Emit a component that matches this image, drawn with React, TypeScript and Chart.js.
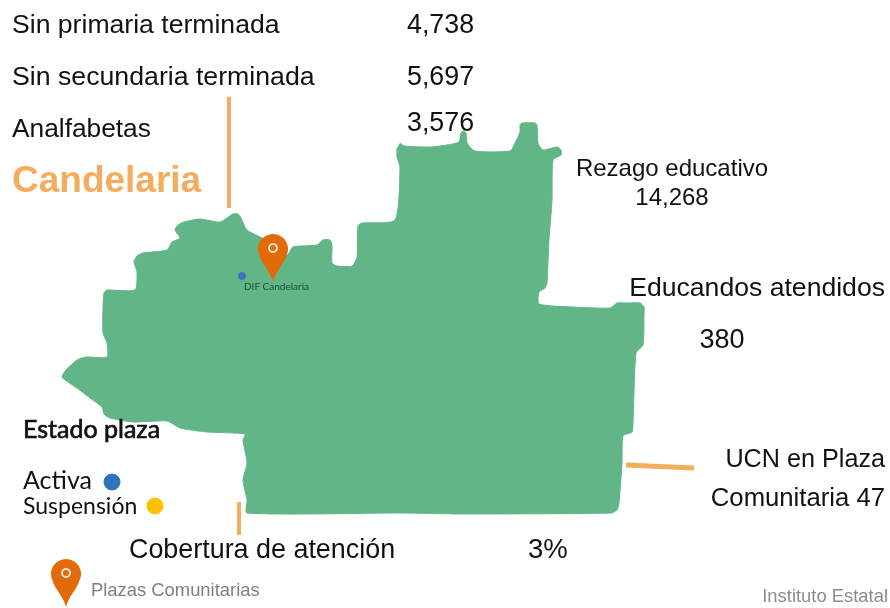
import React, { useEffect, useRef } from "react";
import { Chart, registerables } from "chart.js";

Chart.register(...registerables);

// Outline of the municipality (x, y)
const mapOutlineX = [400,404,430,447,459,461,463,466,467,475,510,515,520,520,522,535,537,538,543,557,561,561,553,552,549,547,545,539,539,573,610,617,625,640,644,644,643,636,633,632,623,622,619,617,611,463,400,247,247,243,247,243,245,207,180,167,133,110,104,102,90,77,68,62,66,77,86,107,107,103,103,104,107,135,137,134,137,143,167,172,180,175,178,184,200,220,233,238,241,247,262,287,293,317,323,330,332,332,337,352,357,358,362,395,400,397,397];
const mapOutlineY = [143,146,147,145,142,133,131,133,143,151,151,143,132,125,123,123,125,143,150,147,150,155,160,200,240,283,288,292,304,307,308,303,303,303,307,315,345,353,423,432,436,463,503,510,513,514,513,513,500,480,463,440,434,432,428,421,422,418,414,407,398,388,382,377,370,360,357,357,343,333,307,293,290,290,272,262,256,253,250,242,238,230,225,222,219,222,214,214,218,230,238,255,247,245,240,240,245,263,266,266,257,226,223,220,167,157,148];

const leaderA = { x: [229, 229], y: [97, 208] };
const leaderB = { x: [626, 694], y: [465, 468] };
const leaderC = { x: [239, 239], y: [502, 535] };

const plazaX = [242];
const plazaY = [276];
const legendActiveX = [112];
const legendActiveY = [482];
const legendSuspendedX = [155];
const legendSuspendedY = [506];
const pinX = [273, 66];
const pinY = [258, 583];

const rowLabels = ["Sin primaria terminada", "Sin secundaria terminada", "Analfabetas"];
const rowValues = ["4,738", "5,697", "3,576"];
const placeName = "Candelaria";
const plazaName = "DIF Candelaria";
const rezago = ["Rezago educativo", "14,268"];
const educandos = ["Educandos atendidos", "380"];
const ucn = ["UCN en Plaza", "Comunitaria 47"];
const cobertura = ["Cobertura de atención", "3%"];
const legendTitle = "Estado plaza";
const legendItems = ["Activa", "Suspensión"];
const pinCaption = "Plazas Comunitarias";
const source = "Instituto Estatal";

const GREEN = "#62B587";
const ORANGE = "#F4AC5E";
const PIN = "#E26A08";
const SANS = '"Liberation Sans", Arial, sans-serif';
const GOTHIC = 'Lato, sans-serif';

type Lbl = { t: string; x: number; y: number; font: string; color?: string; align?: CanvasTextAlign; stroke?: number };

const labels: Lbl[] = [
  { t: rowLabels[0], x: 12, y: 33, font: `26.6px ${SANS}` },
  { t: rowLabels[1], x: 12, y: 85, font: `26.7px ${SANS}` },
  { t: rowLabels[2], x: 12, y: 137, font: `26.3px ${SANS}` },
  { t: rowValues[0], x: 407, y: 33, font: `26.8px ${SANS}` },
  { t: rowValues[1], x: 407, y: 85, font: `26.8px ${SANS}` },
  { t: rowValues[2], x: 407, y: 131, font: `26.8px ${SANS}` },
  { t: placeName, x: 12, y: 192, font: `bold 37px ${SANS}`, color: ORANGE },
  { t: rezago[0], x: 672, y: 176, font: `24px ${SANS}`, align: "center" },
  { t: rezago[1], x: 672, y: 205, font: `24px ${SANS}`, align: "center" },
  { t: educandos[0], x: 885, y: 296, font: `26.6px ${SANS}`, align: "right" },
  { t: educandos[1], x: 722, y: 348, font: `27px ${SANS}`, align: "center" },
  { t: ucn[0], x: 885, y: 467, font: `25.2px ${SANS}`, align: "right" },
  { t: ucn[1], x: 885, y: 506, font: `25.7px ${SANS}`, align: "right" },
  { t: cobertura[0], x: 129, y: 558, font: `26.9px ${SANS}` },
  { t: cobertura[1], x: 528, y: 558, font: `27.5px ${SANS}` },
  { t: legendTitle, x: 23, y: 438, font: `25px ${GOTHIC}`, stroke: 0.7 },
  { t: legendItems[0], x: 23, y: 489, font: `25px ${GOTHIC}` },
  { t: legendItems[1], x: 23, y: 514, font: `23px ${GOTHIC}` },
  { t: plazaName, x: 244, y: 290, font: `10px ${GOTHIC}`, color: "#1F4D35" },
  { t: pinCaption, x: 91, y: 596, font: `18.4px ${SANS}`, color: "#808080" },
  { t: source, x: 888, y: 602, font: `18.4px ${SANS}`, color: "#8C8C8C", align: "right" },
];

function pts(xs: number[], ys: number[]) {
  return xs.map((x, i) => ({ x, y: ys[i] }));
}

function makePin(): HTMLCanvasElement {
  const c = document.createElement("canvas");
  c.width = 32;
  c.height = 50;
  const g = c.getContext("2d")!;
  g.fillStyle = PIN;
  g.beginPath();
  g.arc(16, 16, 15, Math.PI * 0.85, Math.PI * 0.15);
  g.bezierCurveTo(27, 31, 19, 38, 16, 49);
  g.bezierCurveTo(13, 38, 5, 31, 2.4, 22.8);
  g.closePath();
  g.fill();
  g.strokeStyle = "#FBE3CF";
  g.lineWidth = 2;
  g.beginPath();
  g.arc(16, 15, 4, 0, Math.PI * 2);
  g.stroke();
  return c;
}

const textPlugin = {
  id: "mapText",
  afterDatasetsDraw(chart: any) {
    const { ctx, scales } = chart;
    ctx.save();
    ctx.textBaseline = "alphabetic";
    for (const l of labels) {
      ctx.font = l.font;
      ctx.textAlign = l.align ?? "left";
      ctx.fillStyle = l.color ?? "#111111";
      const px = scales.x.getPixelForValue(l.x);
      const py = scales.y.getPixelForValue(l.y);
      ctx.fillText(l.t, px, py);
      if (l.stroke) {
        ctx.lineWidth = l.stroke;
        ctx.strokeStyle = ctx.fillStyle;
        ctx.strokeText(l.t, px, py);
      }
    }
    ctx.restore();
  },
};

export default function App() {
  const ref = useRef<HTMLCanvasElement>(null);
  useEffect(() => {
    document.body.style.margin = "0";
    const pin = makePin();
    const line = (a: { x: number[]; y: number[] }, w: number) => ({
      type: "line" as const,
      data: pts(a.x, a.y),
      borderColor: ORANGE,
      borderWidth: w,
      pointRadius: 0,
      fill: false,
      order: 2,
    });
    const dot = (xs: number[], ys: number[], color: string, r: number) => ({
      type: "scatter" as const,
      data: pts(xs, ys),
      backgroundColor: color,
      borderColor: color,
      pointRadius: r,
      order: 1,
    });
    const chart = new Chart(ref.current!, {
      type: "scatter",
      data: {
        datasets: [
          {
            type: "line",
            data: pts(mapOutlineX, mapOutlineY),
            backgroundColor: GREEN,
            borderColor: GREEN,
            borderWidth: 1,
            pointRadius: 0,
            fill: "shape",
            tension: 0.2,
            order: 3,
          },
          line(leaderA, 4),
          line(leaderB, 5),
          line(leaderC, 4),
          dot(plazaX, plazaY, "#3A73C4", 3.5),
          dot(legendActiveX, legendActiveY, "#2E75B6", 8),
          dot(legendSuspendedX, legendSuspendedY, "#FFC000", 8),
          {
            type: "scatter",
            data: pts(pinX, pinY),
            pointStyle: pin,
            pointRadius: 16,
            order: 0,
            clip: false,
          },
        ] as any,
      },
      options: {
        animation: false,
        responsive: false,
        events: [],
        layout: { padding: 0, autoPadding: false },
        plugins: { legend: { display: false }, tooltip: { enabled: false }, title: { display: false } },
        scales: {
          x: { type: "linear", min: 0, max: 890, display: false },
          y: { type: "linear", min: 0, max: 608, reverse: true, display: false },
        },
      },
      plugins: [textPlugin],
    });
    return () => chart.destroy();
  }, []);
  return <canvas ref={ref} width={890} height={608} style={{ display: "block" }} />;
}
